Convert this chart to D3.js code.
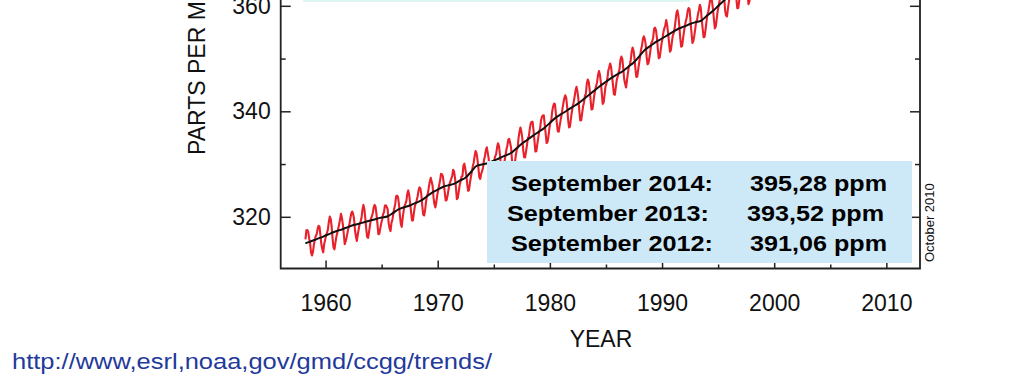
<!DOCTYPE html>
<html><head><meta charset="utf-8">
<script src="https://cdn.jsdelivr.net/npm/d3@7"></script>
<style>html,body{margin:0;padding:0;background:#fff;overflow:hidden}</style>
</head><body>
<script>
// ---- DATA ----
const years = d3.range(1958, 2011);
// monthly mean CO2 (Jan..Dec), null = no data
const monthlyCO2 = [
[null,null,315.71,317.45,317.50,317.10,315.86,314.93,313.20,312.66,313.33,314.67],
[315.62,316.38,316.71,317.72,318.29,318.15,316.54,314.80,313.84,313.26,314.80,315.58],
[316.43,316.97,317.58,319.02,320.03,319.59,318.18,315.91,314.16,313.83,315.00,316.19],
[316.93,317.70,318.54,319.48,320.58,319.77,318.57,316.79,314.80,315.38,316.10,317.01],
[317.94,318.56,319.68,320.63,321.01,320.55,319.58,317.40,316.26,315.42,316.69,317.69],
[318.74,319.08,319.86,321.39,322.25,321.47,319.74,317.77,316.21,315.99,317.12,318.31],
[319.57,320.07,320.73,321.77,322.25,321.89,320.44,318.70,316.70,316.79,317.79,318.71],
[319.44,320.44,320.89,322.13,322.16,321.87,321.39,318.81,317.81,317.30,318.87,319.42],
[320.62,321.59,322.39,323.87,324.01,323.75,322.39,320.37,318.64,318.10,319.79,321.08],
[322.07,322.50,323.04,324.42,325.00,324.09,322.55,320.92,319.31,319.31,320.72,321.96],
[322.57,323.15,323.89,325.02,325.57,325.36,324.14,322.03,320.41,320.25,321.31,322.84],
[324.00,324.42,325.64,326.66,327.38,326.70,325.89,323.67,322.38,321.78,322.85,324.12],
[325.03,325.99,326.87,328.13,328.07,327.66,326.35,324.69,323.10,323.16,323.98,325.13],
[326.17,326.68,327.18,327.78,328.92,328.57,327.34,325.46,323.36,323.57,324.80,326.01],
[326.77,327.63,327.75,329.72,330.07,329.09,328.05,326.32,324.93,325.06,326.50,327.55],
[328.54,329.56,330.30,331.50,332.48,332.07,330.87,329.31,327.51,327.18,328.16,328.64],
[329.35,330.71,331.48,332.65,333.19,332.16,331.07,329.12,327.32,327.28,328.30,329.58],
[330.73,331.46,331.90,333.17,333.94,333.45,331.97,329.95,328.50,328.34,329.37,330.58],
[331.59,332.75,333.52,334.64,334.77,334.00,333.06,330.68,328.95,328.75,330.15,331.62],
[332.66,333.13,334.95,336.13,336.93,336.17,334.88,332.56,331.29,331.27,332.41,333.60],
[334.95,335.25,336.66,337.69,338.03,338.01,336.41,334.41,332.37,332.41,333.75,334.90],
[336.14,336.69,338.27,338.96,339.21,339.26,337.54,335.75,333.98,334.19,335.31,336.81],
[337.90,338.34,340.01,340.93,341.48,341.33,339.40,337.70,336.19,336.15,337.27,338.32],
[339.29,340.55,341.61,342.53,343.03,342.54,340.78,338.44,336.95,337.08,338.58,339.88],
[340.96,341.73,342.81,343.97,344.63,343.79,342.32,340.09,338.28,338.29,339.60,340.90],
[341.68,342.90,343.33,345.25,346.03,345.63,344.19,342.27,340.35,340.38,341.59,343.05],
[344.10,344.79,345.52,346.84,347.63,346.98,345.53,343.55,341.40,341.67,343.10,344.70],
[345.21,346.16,347.74,348.34,349.06,348.38,346.72,345.02,343.27,343.13,344.49,345.88],
[346.56,347.28,348.01,349.77,350.38,349.93,348.16,346.08,345.22,344.51,345.93,347.22],
[348.52,348.73,349.73,351.31,352.09,351.53,350.11,348.08,346.52,346.59,347.96,349.16],
[350.39,351.64,352.41,353.69,354.21,353.72,352.69,350.40,348.92,349.13,350.20,351.41],
[352.91,353.27,353.96,355.64,355.86,355.37,353.99,351.81,350.05,350.25,351.49,352.85],
[353.80,355.04,355.73,356.32,357.32,356.34,354.84,353.01,351.31,351.62,353.07,354.33],
[354.84,355.73,357.23,358.66,359.13,358.13,356.19,353.85,352.25,352.35,353.81,355.12],
[356.25,357.11,357.86,359.09,359.59,359.33,357.01,354.94,352.96,353.32,354.32,355.57],
[357.00,357.31,358.47,359.27,360.19,359.52,357.33,355.64,354.03,354.12,355.41,356.91],
[358.24,358.92,359.99,361.23,361.65,360.81,359.38,357.46,355.73,356.08,357.53,358.98],
[359.92,360.86,361.83,363.30,363.69,363.19,361.64,359.12,358.17,357.99,359.45,360.68],
[362.07,363.24,364.17,364.57,365.13,364.92,363.55,361.38,359.54,359.58,360.89,362.24],
[363.09,364.03,364.51,366.35,366.64,365.59,364.31,362.25,360.29,360.82,362.49,364.38],
[365.26,365.98,367.24,368.66,369.42,368.99,367.82,365.95,364.02,364.40,365.52,367.13],
[368.18,369.07,369.68,370.99,370.96,370.30,369.45,366.90,364.81,365.37,366.72,368.10],
[369.29,369.54,370.60,371.81,371.58,371.70,369.86,368.13,367.00,367.03,368.37,369.67],
[370.59,371.51,372.43,373.37,373.85,373.21,371.51,369.61,368.18,368.45,369.76,371.24],
[372.53,373.20,374.12,375.02,375.76,375.52,374.01,371.85,370.75,370.55,372.25,373.79],
[374.88,375.64,376.45,377.73,378.60,378.28,376.70,374.38,373.17,373.15,374.66,375.99],
[377.00,377.87,378.88,380.35,380.62,379.69,377.47,376.01,374.25,374.46,376.16,377.51],
[378.46,379.73,380.77,382.29,382.45,382.21,380.74,378.74,376.70,377.00,378.35,380.11],
[381.38,382.19,382.67,384.61,385.03,384.05,382.46,380.41,378.85,379.13,380.15,381.82],
[382.89,383.90,384.58,386.50,386.56,386.10,384.50,381.99,380.96,381.12,382.45,383.95],
[385.52,385.82,386.03,387.21,388.54,387.76,386.36,384.09,383.18,382.99,384.19,385.56],
[386.94,387.48,388.82,389.55,390.14,389.48,388.03,386.11,384.74,384.43,386.02,387.42],
[388.71,390.20,391.17,392.46,393.00,392.15,390.20,388.35,386.85,null,null,null]
];
// seasonally corrected trend (black line)
const trendYear = [1958.2,1958.5,1959.0,1959.5,1960.0,1960.5,1961.0,1961.5,1962.0,1962.5,1963.0,1963.5,1964.0,1964.5,1965.0,1965.5,1966.0,1966.5,1967.0,1967.5,1968.0,1968.5,1969.0,1969.5,1970.0,1970.5,1971.0,1971.5,1972.0,1972.5,1973.0,1973.5,1974.0,1974.5,1975.0,1975.5,1976.0,1976.5,1977.0,1977.5,1978.0,1978.5,1979.0,1979.5,1980.0,1980.5,1981.0,1981.5,1982.0,1982.5,1983.0,1983.5,1984.0,1984.5,1985.0,1985.5,1986.0,1986.5,1987.0,1987.5,1988.0,1988.5,1989.0,1989.5,1990.0,1990.5,1991.0,1991.5,1992.0,1992.5,1993.0,1993.5,1994.0,1994.5,1995.0,1995.5,1996.0,1996.5,1997.0,1997.5,1998.0,1998.5,1999.0,1999.5,2000.0,2000.5,2001.0,2001.5,2002.0,2002.5,2003.0,2003.5,2004.0,2004.5,2005.0,2005.5,2006.0,2006.5,2007.0,2007.5,2008.0,2008.5,2009.0,2009.5,2010.0,2010.5];
const trendPPM = [315.0,315.2,315.6,316.0,316.45,316.9,317.3,317.65,318.05,318.45,318.7,319.0,319.3,319.6,319.85,320.05,320.7,321.4,321.8,322.15,322.6,323.05,323.8,324.6,325.15,325.7,326.0,326.3,326.9,327.45,328.6,329.7,329.95,330.2,330.65,331.1,331.6,332.05,332.95,333.85,334.6,335.4,336.1,336.85,337.8,338.75,339.45,340.1,340.8,341.45,342.3,343.15,344.0,344.85,345.6,346.35,347.0,347.6,348.45,349.3,350.5,351.7,352.45,353.2,353.8,354.45,355.1,355.7,356.1,356.55,356.9,357.2,358.1,358.95,359.95,360.95,361.85,362.75,363.3,363.9,365.35,366.85,367.7,368.55,369.1,369.7,370.5,371.3,372.4,373.45,374.7,376.0,376.85,377.7,378.85,380.0,381.05,382.1,383.05,384.0,384.9,385.85,386.75,387.65,388.9,390.1];
const xMajorTicks = [1960,1970,1980,1990,2000,2010];
const xMinorTicks = [1965,1975,1985,1995,2005];
const yMajorTicks = [320,340,360,380];
const yMinorTicks = [330,350,370,390];
const boxLabels = ["September 2014:","September 2013:","September 2012:"];
const boxValues = ["395,28 ppm","393,52 ppm","391,06 ppm"];
const yTitle = "PARTS PER MILLION";
const xTitle = "YEAR";
const dateNote = "October 2010";
const sourceUrl = "http://www,esrl,noaa,gov/gmd/ccgg/trends/";

// ---- CHART ----
const FONT = "'Liberation Sans', Arial, Helvetica, sans-serif";
const svg = d3.select("body").append("svg").attr("width",1024).attr("height",384);
const L = 280.7, R = 920, B = 268.5;
const x = d3.scaleLinear().domain([1956, 2013]).range([L, R]);
const y = d3.scaleLinear().domain([310.2, 400]).range([B, B - 89.8*5.275]);

const monthly = [];
years.forEach((yr,i) => monthlyCO2[i].forEach((v,m) => { if (v != null) monthly.push({t: yr + (m+0.5)/12, v}); }));
const trend = trendYear.map((t,i) => ({t, v: trendPPM[i]}));

// top box (mostly out of view)
svg.append("rect").attr("x",303).attr("y",-60).attr("width",387).attr("height",62).attr("fill","#dcf6f2");

const line = d3.line().x(d => x(d.t)).y(d => y(d.v));
svg.append("path").datum(monthly).attr("d", line).attr("fill","none").attr("stroke","#e8212b").attr("stroke-width",2.1).attr("stroke-linejoin","round");
svg.append("path").datum(trend).attr("d", line.curve(d3.curveMonotoneX)).attr("fill","none").attr("stroke","#111").attr("stroke-width",2);

// axes
function styleAxis(g){ g.select(".domain").remove(); g.selectAll(".tick line").attr("stroke","#222").attr("stroke-width",1.5);
  g.selectAll("text").attr("font-family",FONT).attr("font-size",23).attr("fill","#111"); }
svg.append("g").attr("transform",`translate(${L},0)`).call(d3.axisLeft(y).tickValues(yMajorTicks).tickSize(-10).tickPadding(10).tickFormat(d3.format("d"))).call(styleAxis);
svg.append("g").attr("transform",`translate(${L},0)`).call(d3.axisLeft(y).tickValues(yMinorTicks).tickSize(-5).tickFormat("")).call(styleAxis);
svg.append("g").attr("transform",`translate(${R},0)`).call(d3.axisRight(y).tickValues(yMajorTicks).tickSize(-10).tickFormat("")).call(styleAxis);
svg.append("g").attr("transform",`translate(${R},0)`).call(d3.axisRight(y).tickValues(yMinorTicks).tickSize(-5).tickFormat("")).call(styleAxis);
svg.append("g").attr("transform",`translate(0,${B})`).call(d3.axisBottom(x).tickValues(xMajorTicks).tickSize(-8).tickPadding(26).tickFormat(d3.format("d"))).call(styleAxis);
svg.append("g").attr("transform",`translate(0,${B})`).call(d3.axisBottom(x).tickValues(xMinorTicks).tickSize(-4).tickFormat("")).call(styleAxis);

// frame
svg.append("path").attr("d",`M${L},-220V${B}H${R}V-220`).attr("fill","none").attr("stroke","#222").attr("stroke-width",1.8);

// info box
svg.append("rect").attr("x",487).attr("y",161).attr("width",425).attr("height",102).attr("fill","#cde8f7");
const lx = [511,507,511], vx = [750,747,750], by = [190.5,221,250.5];
boxLabels.forEach((s,i)=>{
  svg.append("text").attr("x",lx[i]).attr("y",by[i]).attr("textLength",202).attr("lengthAdjust","spacingAndGlyphs")
    .attr("font-family",FONT).attr("font-weight","bold").attr("font-size",22).attr("fill","#000").text(s);
  svg.append("text").attr("x",vx[i]).attr("y",by[i]).attr("textLength",137).attr("lengthAdjust","spacingAndGlyphs")
    .attr("font-family",FONT).attr("font-weight","bold").attr("font-size",22).attr("fill","#000").text(boxValues[i]);
});

// titles
svg.append("text").attr("transform","translate(205,155) rotate(-90)").attr("font-family",FONT).attr("font-size",23).attr("fill","#111").text(yTitle);
svg.append("text").attr("x",601).attr("y",347).attr("text-anchor","middle").attr("font-family",FONT).attr("font-size",23).attr("fill","#111").text(xTitle);
svg.append("text").attr("transform","translate(934,262) rotate(-90)").attr("font-family",FONT).attr("font-size",13).attr("fill","#111").text(dateNote);
svg.append("text").attr("x",12).attr("y",369).attr("textLength",480).attr("lengthAdjust","spacingAndGlyphs").attr("font-family",FONT).attr("font-size",22).attr("fill","#1f3a9a").text(sourceUrl);
</script>
</body></html>
